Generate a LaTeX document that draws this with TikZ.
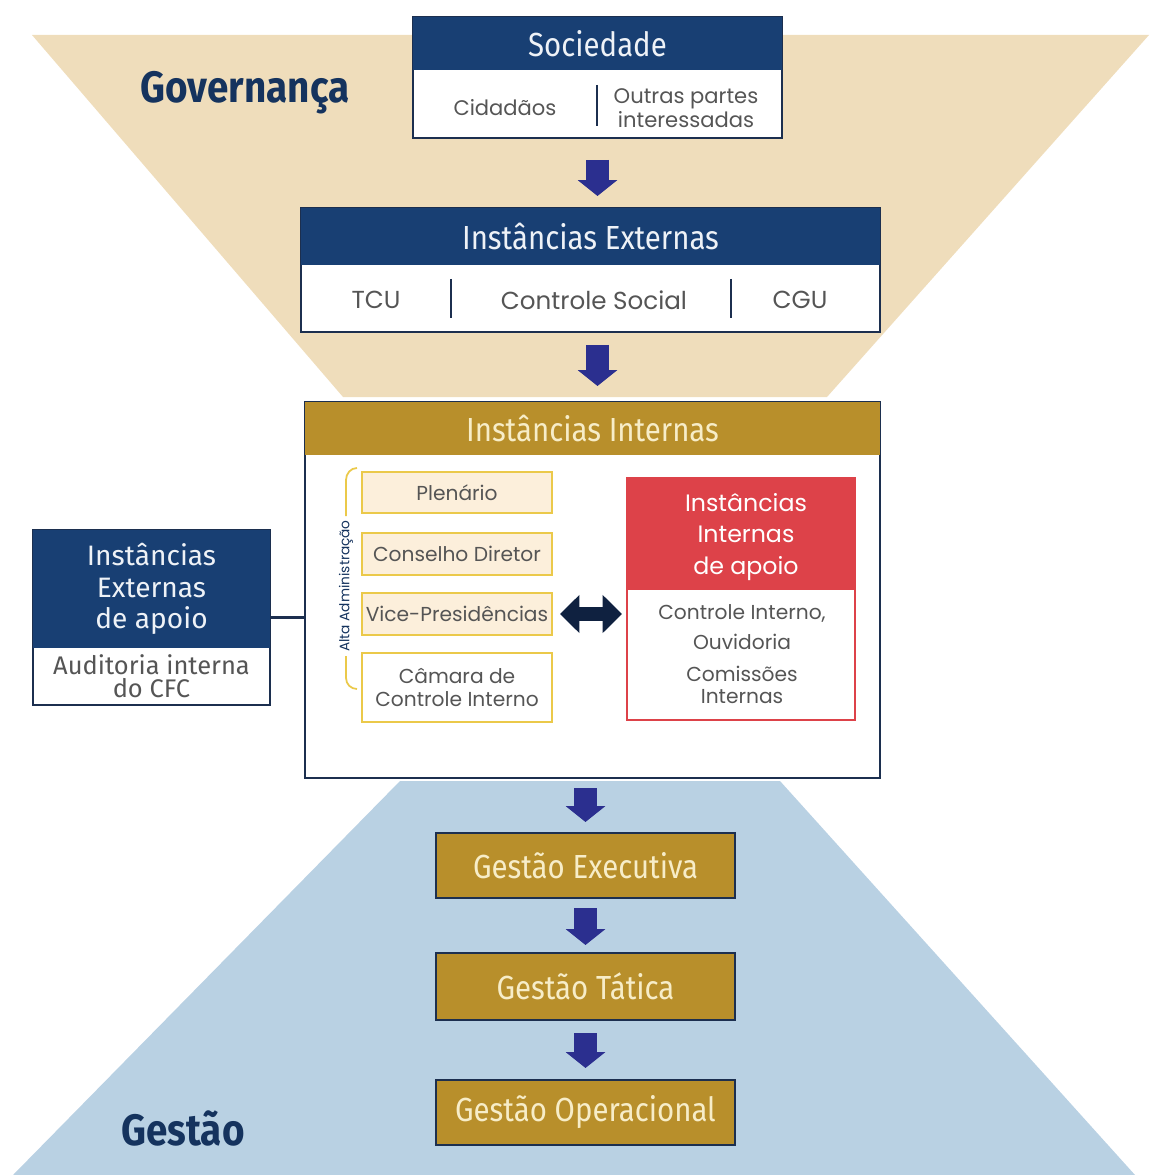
\documentclass[tikz,border=0pt]{standalone}
\usepackage{fontspec}
\setmainfont{Poppins}
\newfontfamily\din[FakeStretch=0.88]{Fira Sans}
\newfontfamily\fira{Fira Sans}
\usetikzlibrary{arrows.meta}
\definecolor{navy}{HTML}{183F73}
\definecolor{navyline}{HTML}{1C2F4F}
\definecolor{navytxt}{HTML}{15335E}
\definecolor{beige}{HTML}{EFDDBB}
\definecolor{lblue}{HTML}{B9D1E3}
\definecolor{gold}{HTML}{B88F2B}
\definecolor{redc}{HTML}{DD4249}
\definecolor{yellowc}{HTML}{EBC94A}
\definecolor{lightfill}{HTML}{FCEFDB}
\definecolor{indigo}{HTML}{2B2F8F}
\definecolor{darknavy}{HTML}{0F2140}
\definecolor{graytxt}{HTML}{555555}
\definecolor{cream}{HTML}{F7EDC8}
\definecolor{whitetxt}{HTML}{EEF2F7}
\tikzset{
  wh/.style 2 args={minimum width=#1*0.02cm, minimum height=#2*0.02cm},
  boxbase/.style={rectangle, inner sep=0pt, outer sep=0pt},
  frame/.style={boxbase, fill=white, draw=navyline, line width=1.5pt},
  hdr/.style={boxbase, fill=navy, text=whitetxt, font=\din\fontsize{19}{22}\selectfont},
  goldhdr/.style={boxbase, fill=gold, text=cream, font=\din\fontsize{19}{22}\selectfont},
  gestbox/.style={boxbase, fill=gold, draw=navyline, line width=1.5pt, text=cream, font=\din\fontsize{19}{22}\selectfont},
  body/.style={text=graytxt, font=\fontsize{14}{16}\selectfont, align=center, inner sep=0pt},
  small/.style={text=graytxt, font=\fontsize{12}{13.5}\selectfont, align=center, inner sep=0pt},
  ybox/.style={boxbase, draw=yellowc, line width=1.3pt, fill=lightfill, text=graytxt, font=\fontsize{11.5}{13.5}\selectfont, align=center},
  divider/.style={draw=navyline, line width=1.3pt},
  downarrow/.style={draw=indigo, line width=13pt, -{Triangle[width=22pt,length=9pt]}},
  biarrow/.style={draw=darknavy, line width=7.5pt, {Triangle[width=21pt,length=11pt]}-{Triangle[width=21pt,length=11pt]}},
  biglabel/.style={text=navytxt, font=\din\bfseries\fontsize{25}{28}\selectfont},
}
\begin{document}
\begin{tikzpicture}[x=0.02cm, y=-0.02cm]
\useasboundingbox (0,0) rectangle (1149,1175);
% background funnels
\fill[beige] (32,35) -- (1149,35) -- (827,397) -- (343,397) -- cycle;
\fill[lblue] (400,781) -- (780,781) -- (1135,1175) -- (13,1175) -- cycle;
% labels
\node[biglabel] (gov) at (245,93) {Governança};
\node[biglabel] (gest) at (183,1128) {Gestão};
% Sociedade
\node[frame, wh={369}{121}] (soc) at (597.5,77.5) {};
\node[hdr, wh={369}{53}, anchor=north] (sochd) at (soc.north) {Sociedade};
\node[small] (cid) at (505,108) {Cidadãos};
\node[small] (outras) at (686,108) {Outras partes\\interessadas};
\draw[divider] (597,85) -- (597,126);
% Instancias Externas
\node[frame, wh={579}{124}] (ext) at (590.5,270) {};
\node[hdr, wh={579}{57}, anchor=north] (exthd) at (ext.north) {Instâncias Externas};
\node[body] (tcu) at (376,300) {TCU};
\node[body] (cs) at (594,300) {Controle Social};
\node[body] (cgu) at (800,300) {CGU};
\draw[divider] (451,279) -- (451,318);
\draw[divider] (731,279) -- (731,318);
% Instancias Internas
\node[frame, wh={575}{376}] (int) at (592.5,590) {};
\node[goldhdr, wh={575}{53}, anchor=north] (inthd) at (int.north) {Instâncias Internas};
\node[ybox, wh={190}{41}] (plen) at (457,492.5) {Plenário};
\node[ybox, wh={190}{42}] (cons) at (457,554) {Conselho Diretor};
\node[ybox, wh={190}{42}] (vice) at (457,614) {Vice-Presidências};
\node[ybox, fill=white, wh={190}{69}] (cam) at (457,687.5) {Câmara de\\Controle Interno};
\draw[yellowc, line width=1pt] (357,468) to[out=180,in=90] (346,480) -- (346,516);
\draw[yellowc, line width=1pt] (346,656) -- (346,678) to[out=270,in=180] (357,689);
\node[rotate=90, text=navytxt, font=\fontsize{7.8}{9}\selectfont, inner sep=0pt] (alta) at (346,586) {Alta Administração};
% Instancias Internas de apoio
\node[boxbase, fill=white, draw=redc, line width=1.3pt, wh={228}{242}] (red) at (741,599) {};
\node[boxbase, fill=redc, wh={228}{112}, anchor=north, text=white, font=\fontsize{13.5}{18}\selectfont, align=center] (redhd) at (red.north) {};
\node[text=white, font=\fontsize{13.5}{18}\selectfont, align=center, inner sep=0pt] (redtitle) at (746,537) {Instâncias\\Internas\\de apoio};
\node[text=graytxt, font=\fontsize{11.5}{12.5}\selectfont, align=center, inner sep=0pt] (redtxt) at (742,654) {Controle Interno,\\[4.5pt]Ouvidoria\\[5.5pt]Comissões\\Internas};
\draw[biarrow, shorten <=8*0.02cm, shorten >=5*0.02cm] (vice.east) -- (vice.east -| red.west);
% Instancias Externas de apoio
\node[frame, wh={237}{175}] (lb) at (151.5,617.5) {};
\node[boxbase, fill=navy, wh={237}{118}, anchor=north, text=whitetxt, font=\fira\fontsize{16}{18}\selectfont, align=center] (lbhd) at (lb.north) {Instâncias\\Externas\\de apoio};
\node[text=graytxt, font=\fira\fontsize{14.5}{13}\selectfont, align=center, inner sep=0pt] (aud) at (151.5,676) {Auditoria interna\\do CFC};
\draw[navyline, line width=1.5pt] (lb.east) -- (lb.east -| int.west);
% Gestao boxes
\node[gestbox, wh={299}{65}] (gex) at (585.5,865.5) {Gestão Executiva};
\node[gestbox, wh={299}{67}] (gta) at (585.5,986.5) {Gestão Tática};
\node[gestbox, wh={299}{65}] (gop) at (585.5,1112.5) {Gestão Operacional};
% down arrows
\draw[downarrow, shorten <=22*0.02cm, shorten >=12*0.02cm] (soc.south) -- (soc.south |- ext.north);
\draw[downarrow, shorten <=13*0.02cm, shorten >=16*0.02cm] (soc.south |- ext.south) -- (soc.south |- int.north);
\draw[downarrow, shorten <=10*0.02cm, shorten >=11*0.02cm] (gex.north |- int.south) -- (gex.north);
\draw[downarrow, shorten <=10*0.02cm, shorten >=8*0.02cm] (gex.south) -- (gta.north);
\draw[downarrow, shorten <=13*0.02cm, shorten >=12*0.02cm] (gta.south) -- (gop.north);
\end{tikzpicture}
\end{document}
